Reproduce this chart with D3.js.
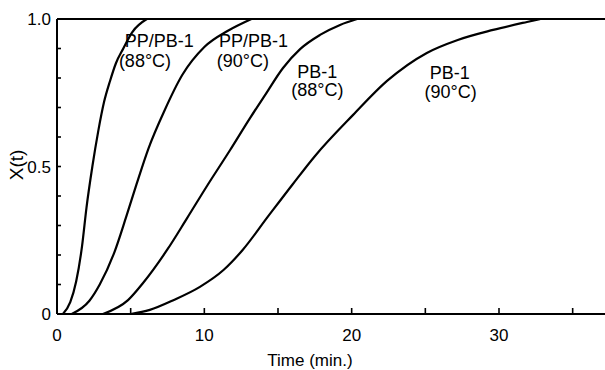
<!DOCTYPE html>
<html>
<head>
<meta charset="utf-8">
<script src="https://cdn.jsdelivr.net/npm/d3@7"></script>
<style>
  html, body { margin: 0; padding: 0; background: #fff; }
  svg { display: block; }
  text { font-family: "Liberation Sans", Arial, sans-serif; fill: #000; }
</style>
</head>
<body>
<svg id="chart" width="605" height="370"></svg>
<script>
// ---- data (time in min., X(t) relative crystallinity) ----
const ppPb88_t = [0.4, 0.9, 1.3, 1.7, 2.0, 2.4, 2.8, 3.2, 3.6, 4.0, 4.5, 5.1, 6.1];
const ppPb88_x = [0, 0.04, 0.11, 0.23, 0.36, 0.5, 0.62, 0.72, 0.79, 0.85, 0.9, 0.955, 1.0];

const ppPb90_t = [1.0, 2.2, 2.9, 3.9, 4.7, 5.4, 6.2, 7.3, 8.5, 10.0, 11.6, 13.2];
const ppPb90_x = [0, 0.045, 0.1, 0.21, 0.33, 0.44, 0.56, 0.69, 0.81, 0.905, 0.96, 1.0];

const pb88_t = [3.12, 4.82, 5.84, 7.47, 8.83, 10.18, 11.74, 13.10, 14.12, 15.34, 16.50, 17.85, 19.21, 20.37];
const pb88_x = [0, 0.047, 0.105, 0.217, 0.325, 0.434, 0.555, 0.664, 0.742, 0.834, 0.898, 0.946, 0.98, 1.0];

const pb90_t = [5.0, 6.3, 7.9, 9.7, 11.3, 12.6, 14.3, 16.0, 17.5, 20.1, 22.4, 25.1, 27.2, 29.6, 31.9, 32.8];
const pb90_x = [0, 0.014, 0.047, 0.092, 0.149, 0.217, 0.329, 0.44, 0.535, 0.675, 0.79, 0.885, 0.929, 0.963, 0.99, 1.0];

const seriesNames = ["PP/PB-1 (88°C)", "PP/PB-1 (90°C)", "PB-1 (88°C)", "PB-1 (90°C)"];
const labelLine1 = ["PP/PB-1", "PP/PB-1", "PB-1", "PB-1"];
const labelLine2 = ["(88°C)", "(90°C)", "(88°C)", "(90°C)"];
const labelT  = [4.6, 11.0, 16.3, 25.3];   // where each label sits (time)
const labelX1 = [0.905, 0.905, 0.80, 0.795];  // baseline of line 1 (X value)
const labelX2 = [0.838, 0.838, 0.738, 0.732];
const labelIndent2 = [-0.4, -0.15, -0.4, -0.35];

const xTickLabels = [0, 10, 20, 30];
const xTicksMinor = [5, 10, 15, 20, 25, 30, 35];
const yTickLabels = [0, 0.5, 1.0];
const yTicksMinor = [0.1, 0.2, 0.3, 0.4, 0.5, 0.6, 0.7, 0.8, 0.9];

// ---- layout ----
const svg = d3.select("#chart");
const mLeft = 57, mRight = 605, mTop = 19, mBottom = 314;
const x = d3.scaleLinear().domain([0, 30]).range([mLeft, 499]);
const y = d3.scaleLinear().domain([0, 1]).range([mBottom, mTop]);

const series = [
  ppPb88_t.map((t, i) => [t, ppPb88_x[i]]),
  ppPb90_t.map((t, i) => [t, ppPb90_x[i]]),
  pb88_t.map((t, i) => [t, pb88_x[i]]),
  pb90_t.map((t, i) => [t, pb90_x[i]])
];

// axes lines
svg.append("line").attr("x1", x(0)).attr("x2", mRight).attr("y1", y(0)).attr("y2", y(0))
  .attr("stroke", "#000").attr("stroke-width", 2);
svg.append("line").attr("x1", x(0)).attr("x2", x(0)).attr("y1", y(0)).attr("y2", y(1))
  .attr("stroke", "#000").attr("stroke-width", 2);
svg.append("line").attr("x1", x(0)).attr("x2", mRight).attr("y1", y(1)).attr("y2", y(1))
  .attr("stroke", "#000").attr("stroke-width", 2);

// x ticks (inward)
svg.selectAll(".xt").data(xTicksMinor).enter().append("line")
  .attr("x1", d => x(d)).attr("x2", d => x(d))
  .attr("y1", y(0)).attr("y2", y(0) - 6)
  .attr("stroke", "#000").attr("stroke-width", 1.6);
svg.selectAll(".xl").data(xTickLabels).enter().append("text")
  .attr("x", d => x(d)).attr("y", 341)
  .attr("text-anchor", "middle").attr("font-size", 17)
  .text(d => d);

// y ticks (inward)
svg.selectAll(".yt").data(yTicksMinor).enter().append("line")
  .attr("x1", x(0)).attr("x2", x(0) + 4)
  .attr("y1", d => y(d)).attr("y2", d => y(d))
  .attr("stroke", "#000").attr("stroke-width", 1.6);
svg.selectAll(".yl").data(yTickLabels).enter().append("text")
  .attr("x", 51).attr("y", d => y(d) + 6)
  .attr("text-anchor", "end").attr("font-size", 17)
  .text(d => d === 0 ? "0" : d.toFixed(1));

// axis titles
svg.append("text").attr("transform", "translate(23,165) rotate(-90)")
  .attr("text-anchor", "middle").attr("font-size", 19).text("X(t)");
svg.append("text").attr("x", 310).attr("y", 366)
  .attr("text-anchor", "middle").attr("font-size", 17).text("Time (min.)");

// curves
const line = d3.line().x(d => x(d[0])).y(d => y(d[1])).curve(d3.curveMonotoneX);
svg.selectAll(".curve").data(series).enter().append("path")
  .attr("d", line).attr("fill", "none")
  .attr("stroke", "#000").attr("stroke-width", 2.2);

// labels
seriesNames.forEach((name, i) => {
  svg.append("text").attr("x", x(labelT[i])).attr("y", y(labelX1[i]))
    .attr("font-size", 18).attr("text-anchor", "start").text(labelLine1[i]);
  svg.append("text").attr("x", x(labelT[i] + labelIndent2[i])).attr("y", y(labelX2[i]))
    .attr("font-size", 18).attr("text-anchor", "start").text(labelLine2[i]);
});
</script>
</body>
</html>
